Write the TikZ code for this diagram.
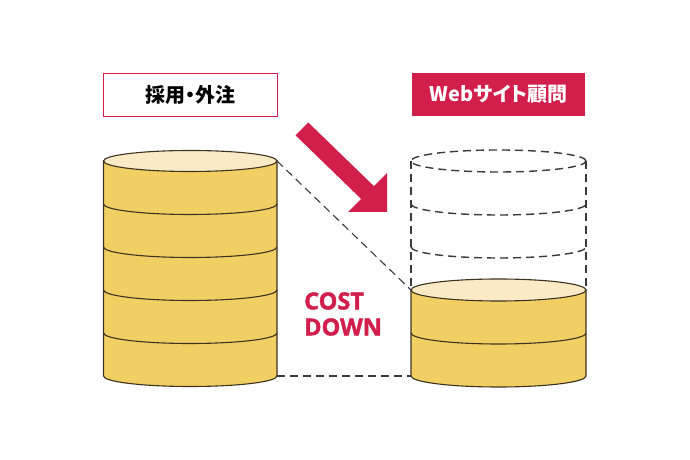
\documentclass[tikz,border=0pt]{standalone}
\usepackage{fontspec}
\newfontfamily\jp{Noto Sans CJK JP}[RawFeature=+palt]
\newfontfamily\opensans{Open Sans}[FakeBold=1.6]
\definecolor{crim}{HTML}{D21E4B}
\definecolor{gold}{HTML}{F2CF62}
\definecolor{goldtop}{HTML}{FAEBC6}
\definecolor{edge}{HTML}{3C3320}
\definecolor{dashc}{HTML}{3A3A3A}
\begin{document}
\begin{tikzpicture}[x=1pt,y=1pt,
  body/.style={fill=gold,draw=edge,line width=1.1pt},
  topface/.style={fill=goldtop,draw=edge,line width=1.1pt},
  bandline/.style={draw=edge,line width=1.1pt},
  ghost/.style={draw=dashc,line width=1.4pt,dash pattern=on 8pt off 5pt},
  guide/.style={draw=dashc,line width=1.1pt,dash pattern=on 8pt off 5pt},
  labelbox/.style={minimum width=173.5pt,minimum height=43pt,inner sep=0pt,font=\jp\bfseries\fontsize{20}{24}\selectfont},
]
\useasboundingbox (0,0) rectangle (690,460);
\fill[white] (0,0) rectangle (690,460);

% labels
\node[labelbox,draw=crim,line width=0.9pt,fill=white,text=black] (lbl1) at (190.25,365.5) {採用・外注};
\node[labelbox,fill=crim,text=white] (lbl2) at (498.5,365.5) {Webサイト顧問};

% left cylinder
\path[body] (103.5,299) -- (103.5,84) arc[start angle=180,end angle=360,x radius=86.75,y radius=10.5] -- (277,299) -- cycle;
\foreach \yy in {256,213,170,127}
  \draw[bandline] (103.5,\yy) arc[start angle=180,end angle=360,x radius=86.75,y radius=10.5];
\path[topface] (190.25,299) ellipse[x radius=86.75,y radius=10.5];

% right dashed ghost cylinder
\draw[ghost] (498.5,299) ellipse[x radius=87.5,y radius=11];
\foreach \yy in {256,213}
  \draw[ghost] (411,\yy) arc[start angle=180,end angle=360,x radius=87.5,y radius=11];
\draw[ghost] (411,299) -- (411,170);
\draw[ghost] (586,299) -- (586,170);

% right solid cylinder
\path[body] (411,170) -- (411,84) arc[start angle=180,end angle=360,x radius=87.5,y radius=11] -- (586,170) -- cycle;
\draw[bandline] (411,127) arc[start angle=180,end angle=360,x radius=87.5,y radius=11];
\path[topface] (498.5,170) ellipse[x radius=87.5,y radius=11];

% guide connectors
\coordinate (ltop) at (277,299);
\coordinate (rtop) at (411,170);
\coordinate (lbot) at (277,84);
\coordinate (rbot) at (411,84);
\draw[guide] (ltop) -- (rtop);
\draw[guide] (lbot) -- (rbot);

% big arrow
\fill[crim] (308.4,337.4) -- (373.9,273.9) -- (387,287) -- (387,248) -- (348,248) -- (361.1,261.1) -- (295.6,324.6) -- cycle;

% cost down
\node[anchor=west,align=left,text=crim,font=\opensans\bfseries\fontsize{23.5}{26}\selectfont,inner sep=0pt] (cost) at (304,146) {COST\\DOWN};
\end{tikzpicture}
\end{document}
